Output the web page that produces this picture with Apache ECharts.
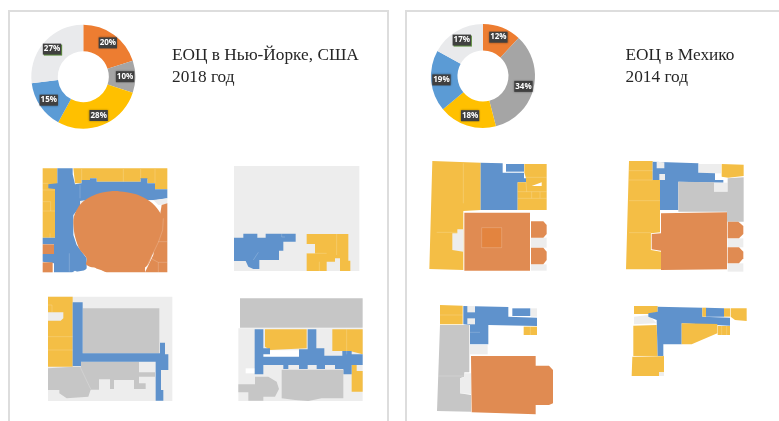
<!DOCTYPE html>
<html>
<head>
<meta charset="utf-8">
<style>html,body{margin:0;padding:0;background:#fff;overflow:hidden}#chart{width:779px;height:421px}</style>
<script src="https://cdn.jsdelivr.net/npm/echarts@6/dist/echarts.min.js"></script>
</head>
<body>
<div id="chart"></div>
<script>
// Share of floor area by function, percent
const functionNames = ['Офисы', 'Прочее', 'Торговля', 'Коммуникации', 'Техническое'];
const newYorkShares = [20, 10, 28, 15, 27];
const mexicoShares = [12, 34, 18, 19, 17];
const sliceColors = ['#ED7D31', '#A5A5A5', '#FFC000', '#5B9BD5', '#E9EAEC'];

const YELLOW = '#F4BE45', BLUE = '#5F92CC', ORANGE = '#E08B52', GRAY = '#C6C6C6', PALE = '#EDEDED', WHITE = '#FFFFFF';

// Floor plans: outlines are in thirds of a pixel relative to each plan's origin
const planNyOne = [
  [YELLOW, [38,40,82,40,82,100,78,248,38,248]],
  [YELLOW, [130,40,412,40,412,103,375,103,375,85,352,85,352,72,332,72,332,80,200,80,200,70,180,70,180,75,155,75,155,85,135,85]],
  [BLUE, [82,40,128,40,128,58,135,88,155,85,155,75,180,75,180,70,200,70,200,80,332,80,332,70,352,70,352,85,375,85,375,103,412,103,412,130,380,135,150,138,150,155,130,180,130,240,140,270,170,310,170,345,130,352,72,352,72,325,38,320,38,297,72,297,72,268,38,268,38,248,75,248,75,102,55,100,55,88,82,85]],
  [ORANGE, [38,268,72,268,72,297,38,297]],
  [ORANGE, [38,322,68,322,68,352,38,352]],
  [PALE, [150,138,165,136,150,155]],
  [PALE, [370,135,412,130,412,148,385,150]],
  [ORANGE, [395,150,412,145,412,352,345,352,370,300]],
  [ORANGE, [130,205,140,165,170,132,230,110,290,112,345,130,385,165,400,205,390,250,370,295,340,340,215,340,170,330,170,310,145,275], 0.4],
  [ORANGE, [195,335,345,335,345,352,230,352,200,345]],
  [WHITE, [125,353,135,347,146,353]],
  [WHITE, [155,353,172,339,192,338,215,346,228,353]],
];
const seamsNyOne = [
  [38,85,55,85], [38,105,75,105], [38,140,62,140,62,168], [38,168,75,168], [60,235,60,248],
  [155,42,155,75], [280,42,280,80], [332,42,332,70], [375,42,375,85],
  [118,295,118,350], [150,90,150,130],
  [400,190,398,225,385,262,345,345], [385,260,412,260], [362,310,385,322,412,322], [385,322,385,352]
];

const planNyTwo = [
  [PALE, [27,33,403,33,403,348,27,348]],
  [BLUE, [27,248,55,248,55,236,97,236,97,248,122,248,122,236,212,236,212,260,175,260,175,287,162,287,162,315,103,315,103,342,85,342,70,335,62,318,27,318]],
  [YELLOW, [245,237,370,237,370,317,376,317,376,348,345,348,345,310,330,310,330,320,305,320,305,348,245,348,245,295,270,295,270,267,245,267]],
];
const seamsNyTwo = [[335,237,335,300], [283,320,283,348], [305,295,245,295], [85,315,100,292], [170,236,170,246,180,246]];

const planNyThree = [
  [PALE, [54,35,427,35,427,348,54,348]],
  [YELLOW, [54,35,128,35,128,245,54,245]],
  [PALE, [54,82,100,82,100,100,92,107,54,107]],
  [GRAY, [158,70,388,70,388,205,158,205]],
  [GRAY, [54,250,130,245,153,245,153,230,327,230,327,262,375,262,375,275,327,275,327,295,347,295,347,312,312,312,312,285,252,285,252,312,240,312,240,283,207,283,207,314,182,314,175,335,110,340,88,325,88,315,54,315]],
  [BLUE, [128,52,158,52,158,205,390,205,390,173,405,173,405,208,415,208,415,255,393,255,393,315,400,315,400,347,377,347,377,230,153,230,153,243,128,243]],
];
const seamsNyThree = [[54,155,128,155], [54,195,128,195], [54,60,66,60,66,82], [150,245,182,312]];

const planNyFour = [
  [PALE, [40,130,413,130,413,348,40,348]],
  [GRAY, [45,40,413,40,413,128,45,128]],
  [YELLOW, [120,133,245,133,245,190,135,195,120,185]],
  [YELLOW, [322,133,413,133,413,208,375,198,322,198]],
  [YELLOW, [380,240,395,240,395,258,413,258,413,320,380,320]],
  [WHITE, [115,196,222,196,222,240,115,240]],
  [BLUE, [89,133,115,133,115,190,135,190,135,208,115,208,115,215,222,215,222,193,248,193,248,133,274,133,274,190,298,190,298,212,352,212,352,198,380,198,380,208,413,208,413,240,380,240,380,268,355,268,355,252,330,252,330,240,300,240,300,252,275,252,275,240,248,240,248,252,222,252,222,240,190,240,190,252,175,252,175,240,115,240,115,268,89,268]],
  [GRAY, [170,254,355,254,355,340,290,340,250,348,210,345,170,340]],
  [GRAY, [40,298,90,298,90,275,130,275,155,290,162,312,150,335,115,335,115,347,70,347,70,322,40,322]],
  [WHITE, [62,250,88,250,88,265,62,265]],
];
const seamsNyFour = [[365,133,365,208]];

const planMxOne = [
  [YELLOW, [37,33,182,38,182,180,130,183,130,360,28,357]],
  [PALE, [97,250,112,250,112,238,130,238,130,305,97,300]],
  [BLUE, [182,38,248,40,248,68,312,68,312,85,318,85,318,97,293,97,293,180,182,180]],
  [BLUE, [258,42,312,42,312,65,258,65]],
  [YELLOW, [313,42,380,42,380,180,293,180,293,97,318,97,318,85,313,68]],
  [WHITE, [335,108,365,97,365,108]],
  [ORANGE, [133,188,330,188,330,362,133,362]],
  [PALE, [333,263,380,263,380,293,333,293]],
  [PALE, [333,343,380,343,380,362,333,362]],
  [ORANGE, [333,214,370,214,380,225,380,252,370,263,333,263]],
  [ORANGE, [333,293,370,293,380,305,380,330,370,343,333,343]],
  ['#E3843F', [185,233,245,233,245,293,185,293]],
];
const seamsMxOne = [
  [130,40,130,160], [50,247,112,247], [185,233,245,233,245,293,185,293,185,233],
  [318,82,380,82], [293,125,380,125], [318,97,320,125], [335,125,335,145], [360,125,360,145], [293,145,380,145]
];

const planMxTwo = [
  [YELLOW, [42,33,113,33,113,90,135,90,135,247,108,250,108,300,138,305,138,358,33,358]],
  [PALE, [252,42,318,42,318,70,252,70]],
  [YELLOW, [320,42,386,44,386,78,340,83,320,80]],
  [BLUE, [113,35,250,40,250,68,300,70,300,90,325,90,325,98,190,95,190,180,135,180,135,90,113,90]],
  [PALE, [125,35,148,37,148,55,125,55]],
  [PALE, [133,72,150,72,150,90,133,90]],
  [PALE, [297,98,338,98,338,125,297,125]],
  [GRAY, [190,95,297,97,297,125,338,125,338,85,386,82,386,215,336,215,336,185,190,185]],
  [ORANGE, [138,190,336,187,336,358,138,360,138,302,110,298,110,252,138,250]],
  [PALE, [338,265,385,265,385,292,338,292]],
  [PALE, [338,340,385,340,385,365,338,365]],
  [ORANGE, [338,215,370,215,385,228,385,252,372,265,338,265]],
  [ORANGE, [338,292,372,292,385,305,385,325,372,340,338,340]],
];
const seamsMxTwo = [[42,62,113,62], [42,90,113,90], [42,152,135,152], [42,248,108,248], [108,250,108,300]];

const planMxThree = [
  [YELLOW, [45,30,113,32,113,88,45,88]],
  [BLUE, [115,33,250,36,250,65,336,68,336,93,190,90,190,148,135,148,135,90,115,88]],
  [BLUE, [262,40,316,40,316,63,262,63]],
  [PALE, [127,33,150,33,150,52,127,52]],
  [PALE, [127,70,150,70,150,88,127,88]],
  [PALE, [318,40,336,40,336,65,318,65]],
  [YELLOW, [296,95,336,95,336,120,296,120]],
  [GRAY, [45,90,133,90,133,232,118,232,118,245,105,250,105,295,138,300,138,350,36,348]],
  [PALE, [135,150,188,150,188,178,135,178]],
  [PALE, [105,250,120,245,120,235,138,235,138,297,105,295]],
  [ORANGE, [138,183,332,183,332,212,372,212,384,225,384,325,372,330,332,330,332,358,140,352]],
];
const seamsMxThree = [[45,60,113,60], [40,243,118,243], [135,112,165,112], [316,95,316,120]];

const planMxFour = [
  [YELLOW, [42,33,113,33,113,52,85,57,42,57]],
  [PALE, [42,65,85,60,110,85,42,88]],
  [YELLOW, [40,92,110,90,113,183,40,183]],
  [YELLOW, [37,185,132,183,132,232,117,232,117,243,35,243]],
  [BLUE, [113,35,247,38,247,65,330,68,330,92,185,85,185,148,130,148,130,183,113,183,110,75,85,65,85,55,113,50]],
  [YELLOW, [185,85,292,87,292,115,215,148,185,148]],
  [YELLOW, [293,93,330,93,330,120,293,120]],
  [YELLOW, [247,38,258,38,258,65,247,65]],
  [BLUE, [258,38,312,40,312,65,258,65]],
  [YELLOW, [312,40,330,40,330,65,312,65]],
  [YELLOW, [332,40,380,40,380,78,345,75,332,65]],
  [PALE, [117,232,132,232,132,243,117,243]],
];
const seamsMxFour = [[37,184,130,184], [305,93,305,120], [320,93,320,120]];

function toPoints(flat) {
  const points = [];
  for (let i = 0; i < flat.length; i += 2) points.push([flat[i], flat[i + 1]]);
  return points;
}

// Turns one plan's outlines and room seams into a scaled graphic group
function planGroup(originX, originY, outlines, seams) {
  const fills = outlines.map(function (item) {
    return {
      type: 'polygon',
      shape: item[2] ? { points: toPoints(item[1]), smooth: item[2] } : { points: toPoints(item[1]) },
      style: { fill: item[0] }
    };
  });
  const lines = seams.map(function (flat) {
    return {
      type: 'polyline',
      shape: { points: toPoints(flat) },
      style: { fill: null, stroke: 'rgba(255,255,255,0.28)', lineWidth: 2 }
    };
  });
  return { type: 'group', x: originX, y: originY, scaleX: 1 / 3, scaleY: 1 / 3, children: fills.concat(lines) };
}

function panelFrame(x, y, w, h) {
  return {
    type: 'rect', z: -10, shape: { x: x, y: y, width: w, height: h },
    style: { fill: '#fff', stroke: '#DDDDDD', lineWidth: 2 }
  };
}

function heading(x, y, text) {
  return {
    type: 'text', x: x, y: y,
    style: { text: text, fill: '#262626', font: '17.3px "Liberation Serif"', lineHeight: 21.5, textVerticalAlign: 'top' }
  };
}

function donut(center, shares) {
  return {
    type: 'pie', center: center, radius: [25.5, 52], startAngle: 90, clockwise: true,
    silent: true, animation: false,
    data: shares.map(function (v, i) {
      const item = { name: functionNames[i], value: v, itemStyle: { color: sliceColors[i] } };
      if (i === 4) {
        item.label = { shadowColor: '#5E8F3E', shadowBlur: 0, shadowOffsetX: 1, shadowOffsetY: 1 };
      }
      return item;
    }),
    label: {
      show: true, position: 'inside', formatter: '{c}%',
      color: '#fff', fontFamily: 'Open Sans', fontWeight: 'bold', fontSize: 8,
      backgroundColor: '#404040', padding: [2, 1, 1, 1],
      shadowColor: 'rgba(0,0,0,0.35)', shadowBlur: 2
    },
    labelLine: { show: false }
  };
}

const chart = echarts.init(document.getElementById('chart'), null, { renderer: 'canvas' });
chart.setOption({
  animation: false,
  backgroundColor: '#fff',
  graphic: { elements: [
    panelFrame(9, 11, 379, 420),
    panelFrame(406, 11, 400, 420),
    heading(172, 45, 'ЕОЦ в Нью-Йорке, США\n2018 год'),
    heading(625.5, 45, 'ЕОЦ в Мехико\n2014 год'),
    planGroup(30, 155, planNyOne, seamsNyOne),
    planGroup(225, 155, planNyTwo, seamsNyTwo),
    planGroup(30, 285, planNyThree, seamsNyThree),
    planGroup(225, 285, planNyFour, seamsNyFour),
    planGroup(420, 150, planMxOne, seamsMxOne),
    planGroup(615, 150, planMxTwo, seamsMxTwo),
    planGroup(425, 295, planMxThree, seamsMxThree),
    planGroup(620, 295, planMxFour, seamsMxFour)
  ] },
  series: [donut([83.3, 76.7], newYorkShares), donut([483, 76], mexicoShares)]
});
</script>
</body>
</html>
